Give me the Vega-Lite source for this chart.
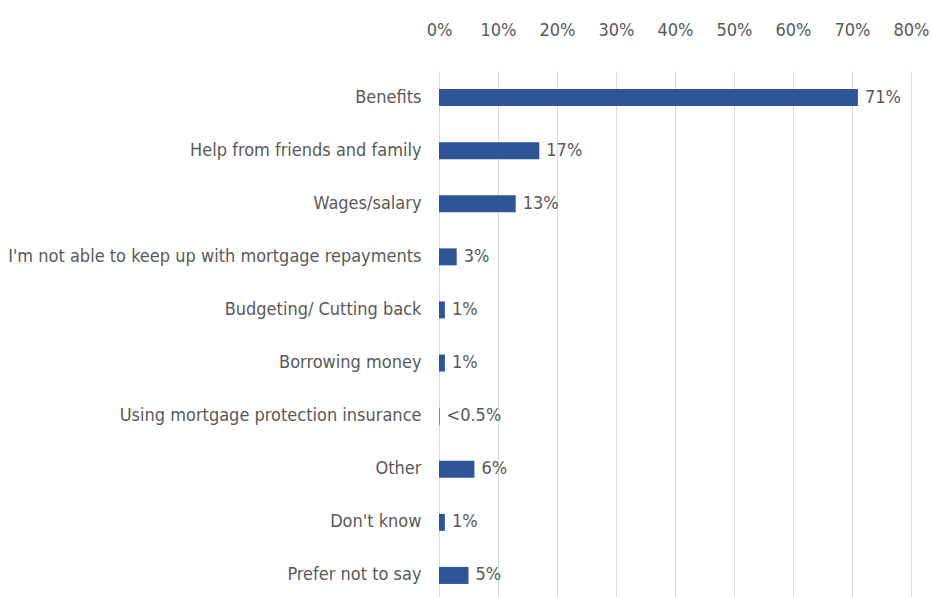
{
  "$schema": "https://vega.github.io/schema/vega-lite/v6.json",
  "width": 472,
  "height": 531,
  "autosize": {"type": "none"},
  "padding": {"left": 439, "top": 71, "right": 21, "bottom": 0},
  "background": "white",
  "config": {
    "view": {"stroke": null},
    "font": "DejaVu Sans Condensed, Liberation Sans Narrow, Roboto, sans-serif"
  },
  "data": {
    "values": [
      {"category": "Benefits", "value": 0.71, "label": "71%"},
      {"category": "Help from friends and family", "value": 0.17, "label": "17%"},
      {"category": "Wages/salary", "value": 0.13, "label": "13%"},
      {"category": "I'm not able to keep up with mortgage repayments", "value": 0.03, "label": "3%"},
      {"category": "Budgeting/ Cutting back", "value": 0.01, "label": "1%"},
      {"category": "Borrowing money", "value": 0.01, "label": "1%"},
      {"category": "Using mortgage protection insurance", "value": 0.001, "label": "<0.5%"},
      {"category": "Other", "value": 0.06, "label": "6%"},
      {"category": "Don't know", "value": 0.01, "label": "1%"},
      {"category": "Prefer not to say", "value": 0.05, "label": "5%"}
    ]
  },
  "encoding": {
    "y": {
      "field": "category",
      "type": "nominal",
      "sort": null,
      "scale": {"paddingInner": 0.68, "paddingOuter": 0.34},
      "axis": {
        "title": null,
        "domain": false,
        "ticks": false,
        "labelPadding": 18,
        "labelFontSize": 18,
        "labelColor": "#595959",
        "labelLimit": 500
      }
    },
    "x": {
      "field": "value",
      "type": "quantitative",
      "scale": {"domain": [0, 0.8], "nice": false},
      "axis": {
        "orient": "top",
        "title": null,
        "format": ".0%",
        "values": [0, 0.1, 0.2, 0.3, 0.4, 0.5, 0.6, 0.7, 0.8],
        "domain": false,
        "ticks": false,
        "labelFlush": false,
        "labelOverlap": false,
        "labelPadding": 32,
        "labelFontSize": 18,
        "labelColor": "#595959",
        "gridColor": "#d9d9d9",
        "gridWidth": 1
      }
    }
  },
  "layer": [
    {"mark": {"type": "bar", "color": "#2f5597"}},
    {
      "mark": {"type": "text", "align": "left", "dx": 7, "fontSize": 18, "color": "#595959"},
      "encoding": {"text": {"field": "label"}}
    }
  ]
}
